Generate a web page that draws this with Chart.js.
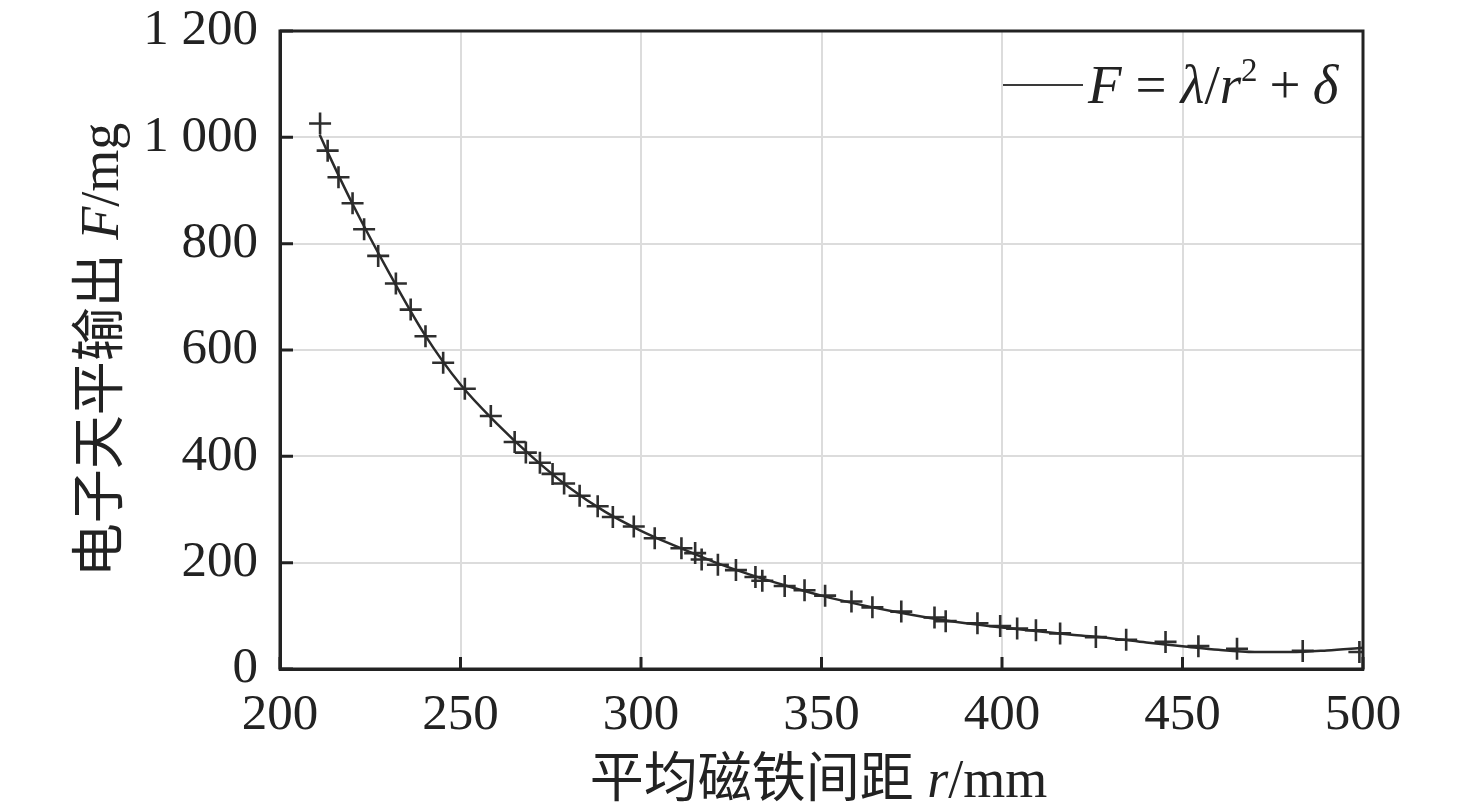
<!DOCTYPE html>
<html lang="zh">
<head>
    <meta charset="UTF-8">
    <title>电子天平输出与平均磁铁间距</title>
    <script src="https://cdn.jsdelivr.net/npm/chart.js"></script>
    <style>
        html, body { margin: 0; padding: 0; background: #fff; }
        #chart { display: block; }
    </style>
</head>
<body>
    <canvas id="chart" width="1476" height="812"></canvas>
    <script>
    // measured points (crosses)
    const measR = [211.1, 213.2, 216.2, 220.1, 223.3, 227.2, 232.1, 236.2, 240.3, 245.2,
        251.2, 258.4, 265.0, 268.1, 272.0, 275.5, 278.7, 283.0, 288.0, 292.2,
        298.0, 303.8, 311.2, 315.0, 316.8, 321.3, 326.3, 331.7, 333.6, 339.8,
        345.3, 351.0, 358.3, 364.1, 372.1, 381.3, 384.4, 393.2, 399.5, 404.2,
        409.4, 416.1, 426.0, 434.4, 445.3, 454.4, 465.1, 483.3, 499.0];
    const measF = [1026, 975, 925, 876, 827, 777, 725, 676, 626, 576,
        527, 476, 427, 407, 388, 367, 349, 326, 306, 286,
        268, 246, 227, 218, 206, 196, 186, 173, 166, 156,
        148, 138, 127, 116, 108, 97, 90, 86, 81, 76,
        73, 67, 60, 55, 51, 43, 38, 34, 32];

    // fitted curve
    const fitR = [211, 213, 220, 230, 240, 250, 260, 270, 280, 290, 300, 310, 320, 330, 340,
        350, 360, 370, 380, 390, 400, 410, 420, 430, 440, 450, 460, 470, 480, 490, 500];
    const fitF = [1005, 975, 876, 748, 630, 535, 462, 398, 342, 296, 260, 230, 202, 178, 157,
        138, 122, 108, 96, 86, 78, 71, 64, 58, 50, 43, 36, 32, 32, 35, 40];

    const xTicks = [200, 250, 300, 350, 400, 450, 500];
    const yTicks = [0, 200, 400, 600, 800, 1000, 1200];

    const SERIF = '"Liberation Serif", "Times New Roman", "Noto Sans CJK SC", serif';
    const INK = '#222';

    function fmt(v) {
        return String(v).replace(/\B(?=(\d{3})+(?!\d))/g, ' ');
    }

    // draw text made of several pieces (italic letters, superscripts)
    function drawPieces(ctx, pieces, x, y, align) {
        let total = 0;
        pieces.forEach(p => {
            ctx.font = p.font;
            p.w = ctx.measureText(p.t).width + (p.gap || 0);
            total += p.w;
        });
        let cx = align === 'center' ? x - total / 2 : x;
        pieces.forEach(p => {
            ctx.font = p.font;
            ctx.fillText(p.t, cx + (p.gap || 0) / 2, y + (p.dy || 0));
            cx += p.w;
        });
    }

    const decorPlugin = {
        id: 'decor',
        afterDatasetsDraw(chart) {
            const ctx = chart.ctx;
            const a = chart.chartArea;
            const xs = chart.scales.x;
            const ys = chart.scales.y;
            ctx.save();
            ctx.strokeStyle = INK;
            ctx.lineWidth = 3;
            // inward ticks, bottom and left only
            ctx.beginPath();
            xTicks.forEach(v => {
                const px = xs.getPixelForValue(v);
                ctx.moveTo(px, a.bottom);
                ctx.lineTo(px, a.bottom - 12);
            });
            yTicks.forEach(v => {
                const py = ys.getPixelForValue(v);
                ctx.moveTo(a.left, py);
                ctx.lineTo(a.left + 13, py);
            });
            ctx.stroke();
            // frame
            ctx.strokeRect(a.left, a.top, a.right - a.left, a.bottom - a.top);

            // legend
            ctx.strokeStyle = '#3a3a3a';
            ctx.lineWidth = 2.2;
            ctx.beginPath();
            ctx.moveTo(1003, 85);
            ctx.lineTo(1083, 85);
            ctx.stroke();
            ctx.fillStyle = INK;
            ctx.textBaseline = 'alphabetic';
            ctx.textAlign = 'left';
            const it = 'italic 55px ' + SERIF;
            const rm = '55px ' + SERIF;
            drawPieces(ctx, [
                { t: 'F', font: it },
                { t: '=', font: rm, gap: 28 },
                { t: 'λ', font: it },
                { t: '/', font: rm },
                { t: 'r', font: it },
                { t: '2', font: '33px ' + SERIF, dy: -22 },
                { t: '+', font: rm, gap: 24 },
                { t: 'δ', font: it }
            ], 1088, 103, 'left');

            // axis titles
            const t = '54px ' + SERIF;
            const ti = 'italic 54px ' + SERIF;
            drawPieces(ctx, [
                { t: '平均磁铁间距 ', font: t },
                { t: 'r', font: ti },
                { t: '/mm', font: t }
            ], (a.left + a.right) / 2 - 3, 797, 'center');

            ctx.translate(118, (a.top + a.bottom) / 2);
            ctx.rotate(-Math.PI / 2);
            drawPieces(ctx, [
                { t: '电子天平输出 ', font: t },
                { t: 'F', font: ti },
                { t: '/mg', font: t }
            ], 0, 0, 'center');
            ctx.restore();
        }
    };

    const ctx = document.getElementById('chart').getContext('2d');
    new Chart(ctx, {
        type: 'scatter',
        data: {
            datasets: [
                {
                    type: 'line',
                    label: 'F = λ/r² + δ',
                    data: fitR.map((r, i) => ({ x: r, y: fitF[i] })),
                    borderColor: '#2a2a2a',
                    borderWidth: 2.5,
                    pointRadius: 0,
                    cubicInterpolationMode: 'monotone',
                    fill: false
                },
                {
                    label: '测量值',
                    data: measR.map((r, i) => ({ x: r, y: measF[i] })),
                    pointStyle: 'cross',
                    pointRadius: 11,
                    pointHoverRadius: 11,
                    borderColor: '#2e2e2e',
                    borderWidth: 2.6,
                    showLine: false
                }
            ]
        },
        options: {
            responsive: false,
            animation: false,
            layout: { padding: { top: 31, right: 113, left: 0, bottom: 0 } },
            plugins: {
                legend: { display: false },
                tooltip: { enabled: false }
            },
            scales: {
                x: {
                    type: 'linear',
                    min: 200,
                    max: 500,
                    afterBuildTicks: s => { s.ticks = xTicks.map(v => ({ value: v })); },
                    afterFit: s => { s.height = 143; },
                    grid: { color: '#dcdcdc', lineWidth: 2, drawTicks: false },
                    border: { display: true, color: INK, width: 3 },
                    ticks: {
                        padding: 16,
                        color: INK,
                        maxRotation: 0,
                        font: { family: SERIF, size: 51 },
                        callback: v => fmt(v)
                    }
                },
                y: {
                    min: 0,
                    max: 1200,
                    afterBuildTicks: s => { s.ticks = yTicks.map(v => ({ value: v })); },
                    afterFit: s => { s.width = 280; s.paddingTop = 0; s.paddingBottom = 0; },
                    grid: { color: '#dcdcdc', lineWidth: 2, drawTicks: false },
                    border: { display: true, color: INK, width: 3 },
                    ticks: {
                        padding: 22,
                        color: INK,
                        font: { family: SERIF, size: 51 },
                        callback: v => fmt(v)
                    }
                }
            }
        },
        plugins: [decorPlugin]
    });
    </script>
</body>
</html>
